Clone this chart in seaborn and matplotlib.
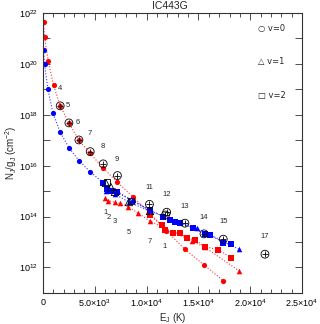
import numpy as np
import seaborn as sns
import matplotlib
matplotlib.use("Agg")
from matplotlib import pyplot as plt
from matplotlib.ticker import FixedLocator, MultipleLocator, NullFormatter

# energies (K) and log10(N_J/g_J)
red_circ_e = [70, 160, 510, 1030, 1670, 2510, 3474, 4565, 5820, 7190, 8650,
              10280, 11900, 13700, 15540, 17400]
red_circ_n = [21.63, 21.07, 20.11, 19.16, 18.35, 17.68, 17.0, 16.48, 15.9,
              15.35, 14.78, 14.15, 13.45, 12.71, 12.10, 11.48]
blue_circ_e = [70, 160, 480, 965, 1670, 2510, 3474, 4565, 5820, 7170, 8650,
               10300]
blue_circ_n = [20.55, 19.98, 19.01, 18.08, 17.31, 16.71, 16.20, 15.76, 15.33,
               14.98, 14.61, 14.26]
red_tri_e = [5980, 6300, 6950, 7430, 8230, 9200, 10300, 14350, 15630, 18950]
red_tri_n = [14.72, 14.62, 14.56, 14.52, 14.39, 14.13, 13.83, 13.04, 12.79,
             11.86]
red_sq_e = [10300, 11450, 11770, 12570, 13220, 13860, 14670, 15630, 16920,
            18110]
red_sq_n = [14.06, 13.67, 13.47, 13.37, 13.37, 13.15, 13.08, 12.82, 12.69,
            12.39]
blue_tri_e = [6080, 6950, 8330, 10300, 14830, 18950]
blue_tri_n = [15.02, 14.88, 14.56, 14.22, 13.54, 12.71]
blue_sq_e = [5820, 6180, 6560, 7170, 10300, 11610, 12260, 12740, 13220,
             14500, 15630, 16120, 17400, 18110]
blue_sq_n = [15.33, 15.10, 15.0, 14.95, 14.26, 14.0, 13.87, 13.8, 13.76,
             13.54, 13.32, 13.28, 12.98, 12.92]

# observed points
obs_circ_e = [1670, 2510, 3474, 4565, 5820, 7190, 10280, 11940, 11820,
              13700, 15540, 17400, 21420]
obs_circ_n = [18.35, 17.68, 17.01, 16.55, 16.07, 15.61, 14.48, 14.17, 14.06,
              13.74, 13.32, 13.11, 12.52]
obs_tri_e = [6080, 6560, 6950, 8300, 10330]
obs_tri_n = [15.32, 15.16, 14.97, 14.57, 14.22]
obs_sq_e = [6180, 8490]
obs_sq_n = [15.36, 14.61]

lab_text = ["4", "5", "6", "7", "8", "9", "11", "12", "13", "14", "15", "17",
            "1", "2", "3", "5", "7", "1"]
lab_e = [1640, 2410, 3380, 4540, 5790, 7140, 10230, 11970, 13700, 15540,
         17470, 21420, 6080, 6370, 6950, 8300, 10330, 11770]
lab_n = [19.05, 18.35, 17.68, 17.25, 16.77, 16.26, 15.16, 14.85, 14.38, 13.98,
         13.79, 13.2, 14.14, 13.98, 13.79, 13.36, 13.0, 12.81]

sns.set_style("ticks")
plt.rcParams['font.family'] = ['Liberation Sans', 'DejaVu Sans']
plt.rcParams['mathtext.fontset'] = 'custom'
plt.rcParams['mathtext.rm'] = 'Liberation Sans'
plt.rcParams['mathtext.it'] = 'Liberation Sans'

fig = plt.figure(figsize=(3.2, 3.24), dpi=100)
ax = fig.add_axes([0.134, 0.096, 0.81, 0.864])

series = [
    (red_circ_e, red_circ_n, "red", "o", 14),
    (blue_circ_e, blue_circ_n, "blue", "o", 14),
    (red_tri_e, red_tri_n, "red", "^", 16),
    (red_sq_e, red_sq_n, "red", "s", 14),
    (blue_tri_e, blue_tri_n, "blue", "^", 16),
    (blue_sq_e, blue_sq_n, "blue", "s", 14),
]
for e, n, c, m, s in series:
    y = 10 ** np.array(n)
    sns.lineplot(x=e, y=y, ax=ax, color=c, linestyle=":", linewidth=0.8,
                 sort=False, estimator=None, alpha=0.8)
    sns.scatterplot(x=e, y=y, ax=ax, color=c, marker=m, s=s, linewidth=0)

sns.scatterplot(x=obs_circ_e, y=10 ** np.array(obs_circ_n), ax=ax, marker="o",
                s=32, facecolor="none", edgecolor="black", linewidth=0.6)
sns.scatterplot(x=obs_circ_e, y=10 ** np.array(obs_circ_n), ax=ax, marker="+",
                s=16, color="black", linewidth=0.6)
sns.scatterplot(x=obs_tri_e, y=10 ** np.array(obs_tri_n), ax=ax, marker="^",
                s=28, facecolor="none", edgecolor="black", linewidth=0.6)
sns.scatterplot(x=obs_sq_e, y=10 ** np.array(obs_sq_n), ax=ax, marker="s",
                s=22, facecolor="none", edgecolor="black", linewidth=0.6)

for t, e, n in zip(lab_text, lab_e, lab_n):
    ax.text(e, 10 ** n, t, fontsize=5.5, ha="center", va="center")

ax.set_yscale("log")
ax.set_xlim(0, 2.5e4)
ax.set_ylim(1e11, 1e22)

xt = [0, 5e3, 1e4, 1.5e4, 2e4, 2.5e4]
xl = ["0", r"5.0$\times$10$^3$", r"1.0$\times$10$^4$", r"1.5$\times$10$^4$",
      r"2.0$\times$10$^4$", r"2.5$\times$10$^4$"]
ax.set_xticks(xt)
ax.set_xticklabels(xl)
ax.xaxis.set_minor_locator(MultipleLocator(1e3))
yt = [1e12, 1e14, 1e16, 1e18, 1e20, 1e22]
ax.set_yticks(yt)
ax.set_yticklabels([r"10$^{%d}$" % int(np.log10(v)) for v in yt])
ax.yaxis.set_minor_locator(FixedLocator([10.0 ** k for k in range(11, 23, 2)]))
ax.yaxis.set_minor_formatter(NullFormatter())
ax.tick_params(which="both", direction="in", top=True, right=True,
               labelsize=6.5, width=0.6, colors="#333333", labelcolor="black")
ax.tick_params(which="major", length=5)
ax.tick_params(which="minor", length=3)
ax.tick_params(axis="y", which="minor", length=5)
for sp in ax.spines.values():
    sp.set_linewidth(0.8)
    sp.set_color("#333333")

ax.set_xlabel(r"E$_\mathrm{J}$ (K)", fontsize=7, labelpad=1)
ax.set_ylabel(r"N$_\mathrm{J}$/g$_\mathrm{J}$ (cm$^{-2}$)", fontsize=7,
              labelpad=0)
fig.text(0.53, 0.997, "IC443G", fontsize=7.5, ha="center", va="top")

for i, (sym, lab) in enumerate([("○", "v=0"), ("△", "v=1"), ("□", "v=2")]):
    ax.text(0.83, 0.945 - i * 0.12, sym + " " + lab, transform=ax.transAxes,
            fontsize=6, ha="left", va="center",
            family=["DejaVu Sans"])

fig.savefig("out.png", dpi=100)
